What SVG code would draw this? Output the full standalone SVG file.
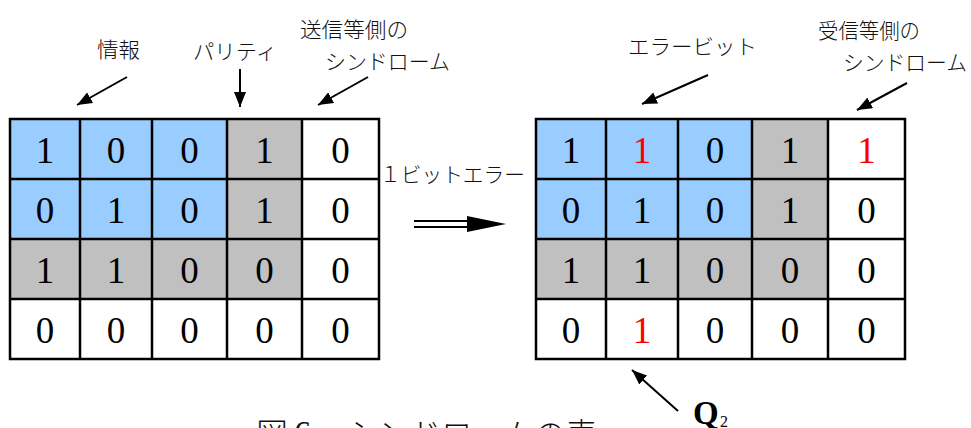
<svg xmlns="http://www.w3.org/2000/svg" width="971" height="428" viewBox="0 0 971 428">
<style>
.b{fill:#99CCFF}
.g{fill:#C0C0C0}
.w{fill:#FFFFFF}
.grid{fill:none;stroke:#000;stroke-width:2.5}
.d{font-family:"Liberation Serif","DejaVu Serif",serif;font-size:37px;text-anchor:middle;fill:#000}
.r{fill:#FF0000}
.jp{font-family:"Noto Sans CJK JP","Noto Sans CJK SC",sans-serif;font-weight:300;font-size:21px;fill:#111}
.cap{font-family:"Noto Sans CJK JP","Noto Sans CJK SC",sans-serif;font-weight:300;font-size:32px;fill:#111}
.conn{stroke:#000;stroke-width:2;fill:none}
</style>
<defs>
<marker id="ah" markerUnits="userSpaceOnUse" markerWidth="16" markerHeight="12" refX="15" refY="6" orient="auto">
<path d="M0,0 L15,6 L0,12 z" fill="#000"/>
</marker>
</defs>
<rect width="971" height="428" fill="#FFFFFF"/>

<g id="grid-send">
<rect class="b" x="10" y="119" width="217" height="120"/>
<rect class="g" x="227" y="119" width="75" height="120"/>
<rect class="g" x="10" y="239" width="292" height="60"/>
<path class="grid" d="M10,119 H379 V359 H10 Z M80,119 V359 M152,119 V359 M227,119 V359 M302,119 V359 M10,179 H379 M10,239 H379 M10,299 H379"/>
<g class="d">
<text x="45" y="163">1</text><text x="116" y="163">0</text><text x="189.5" y="163">0</text><text x="264.5" y="163">1</text><text x="340.5" y="163">0</text>
<text x="45" y="223">0</text><text x="116" y="223">1</text><text x="189.5" y="223">0</text><text x="264.5" y="223">1</text><text x="340.5" y="223">0</text>
<text x="45" y="283">1</text><text x="116" y="283">1</text><text x="189.5" y="283">0</text><text x="264.5" y="283">0</text><text x="340.5" y="283">0</text>
<text x="45" y="343">0</text><text x="116" y="343">0</text><text x="189.5" y="343">0</text><text x="264.5" y="343">0</text><text x="340.5" y="343">0</text>
</g>
</g>

<g id="grid-recv">
<rect class="b" x="536" y="119" width="216" height="120"/>
<rect class="g" x="752" y="119" width="76" height="120"/>
<rect class="g" x="536" y="239" width="292" height="60"/>
<path class="grid" d="M536,119 H905 V359 H536 Z M606,119 V359 M678,119 V359 M752,119 V359 M828,119 V359 M536,179 H905 M536,239 H905 M536,299 H905"/>
<g class="d">
<text x="571" y="163">1</text><text class="r" x="642" y="163">1</text><text x="715" y="163">0</text><text x="790" y="163">1</text><text class="r" x="866.5" y="163">1</text>
<text x="571" y="223">0</text><text x="642" y="223">1</text><text x="715" y="223">0</text><text x="790" y="223">1</text><text x="866.5" y="223">0</text>
<text x="571" y="283">1</text><text x="642" y="283">1</text><text x="715" y="283">0</text><text x="790" y="283">0</text><text x="866.5" y="283">0</text>
<text x="571" y="343">0</text><text class="r" x="642" y="343">1</text><text x="715" y="343">0</text><text x="790" y="343">0</text><text x="866.5" y="343">0</text>
</g>
</g>

<g id="label-info"><text class="jp" x="97" y="57" textLength="43" lengthAdjust="spacingAndGlyphs">情報</text></g>
<g id="label-parity"><text class="jp" x="193" y="59" textLength="84" lengthAdjust="spacingAndGlyphs">パリティ</text></g>
<g id="label-send-syn">
<text class="jp" x="300" y="37" textLength="108" lengthAdjust="spacingAndGlyphs">送信等側の</text>
<text class="jp" x="325" y="69" textLength="125" lengthAdjust="spacingAndGlyphs">シンドローム</text>
</g>
<g id="label-errbit"><text class="jp" x="628" y="54" textLength="129" lengthAdjust="spacingAndGlyphs">エラービット</text></g>
<g id="label-recv-syn">
<text class="jp" x="818" y="38" textLength="102" lengthAdjust="spacingAndGlyphs">受信等側の</text>
<text class="jp" x="843" y="70" textLength="124" lengthAdjust="spacingAndGlyphs">シンドローム</text>
</g>
<g id="label-1bit"><text class="jp" x="380" y="182" textLength="145" lengthAdjust="spacingAndGlyphs">１ビットエラー</text></g>
<g id="label-q2">
<text x="693" y="424" font-family="Liberation Serif,serif" font-weight="bold" font-size="33" fill="#000">Q</text>
<text x="720" y="427" font-family="Liberation Serif,serif" font-size="16" fill="#000">2</text>
</g>
<g id="caption">
<text class="cap" x="256" y="446">図</text>
<text x="294" y="444" font-family="Liberation Serif,serif" font-size="34" fill="#111">6</text>
<text class="cap" x="347" y="446" textLength="250" lengthAdjust="spacingAndGlyphs">シンドロームの表</text>
</g>

<g id="connectors">
<line class="conn" x1="127" y1="77" x2="77" y2="105" marker-end="url(#ah)"/>
<line class="conn" x1="240" y1="69" x2="240" y2="107" marker-end="url(#ah)"/>
<line class="conn" x1="368" y1="77" x2="318" y2="105" marker-end="url(#ah)"/>
<line class="conn" x1="708" y1="75" x2="642" y2="104" marker-end="url(#ah)"/>
<line class="conn" x1="907" y1="83" x2="857" y2="110" marker-end="url(#ah)"/>
<line class="conn" x1="678" y1="411" x2="632" y2="370" marker-end="url(#ah)"/>
<line class="conn" x1="414" y1="221" x2="470" y2="221"/>
<line class="conn" x1="414" y1="227" x2="470" y2="227"/>
<polygon points="467,216 506,224 467,232" fill="#000"/>
</g>
</svg>
